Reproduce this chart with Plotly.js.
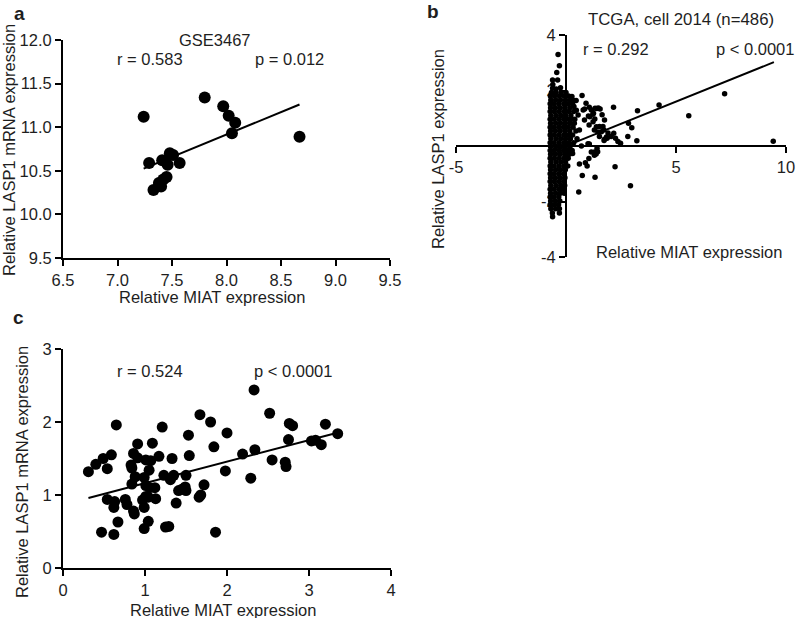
<!DOCTYPE html>
<html>
<head>
<meta charset="utf-8">
<script src="https://cdn.plot.ly/plotly-3.0.1.min.js"></script>
<style>html,body{margin:0;padding:0;background:#fff}#chart{width:797px;height:618px}</style>
</head>
<body>
<div id="chart"></div>
<script>
// Panel a: GSE3467
const aX = [7.24, 7.80, 7.97, 8.02, 8.08, 8.05, 8.67, 7.29, 7.41, 7.48, 7.51, 7.46, 7.57, 7.45, 7.42, 7.38, 7.40, 7.33];
const aY = [11.12, 11.34, 11.24, 11.13, 11.05, 10.93, 10.89, 10.59, 10.62, 10.70, 10.68, 10.57, 10.59, 10.43, 10.40, 10.36, 10.32, 10.28];
const aFitX = [7.24, 8.67];
const aFitY = [10.525, 11.26];
const aXTicks = [6.5, 7.0, 7.5, 8.0, 8.5, 9.0, 9.5];
const aYTicks = [9.5, 10.0, 10.5, 11.0, 11.5, 12.0];

// Panel b: TCGA, cell 2014 (n=486)
const bX = [
  // sparse points
  9.42, 7.21, 5.58, 4.23, 3.25, 2.99, 3.22, 2.84, 2.81, 2.16, 2.17, 2.48, 2.36, 2.25, 1.87, 1.75, 1.72, 1.64, 1.75, 1.47,
  1.32, 1.22, 1.52, 1.45, 2.23, 2.93, 1.32, 1.37, 1.41, 0.73, 0.27, 0.46, 0.91, 1.06, 1.25, 1.02, 1.31, 0.84, 1.68, 1.29,
  0.61, 0.38, 0.78, 0.55, 0.36, 0.26, 1.05, 1.52, 2.05, 1.06, 1.44, 1.29, 1.04, 0.61, 0.88, 0.96, 0.74, 0.58, 0.30, 1.15,
  1.91, 0.32, 0.47, 0.85, 1.15, 1.40, 1.55, 1.08, 1.23, 1.38, 1.61, 1.84, 1.73, 1.00, 0.70, 1.30,
  // top of column
  -0.36, -0.30, -0.42, -0.61, -0.38, -0.61, -0.45, -0.60, -0.25,
  // dense column
  -0.66, -0.45, -0.22, 0.00,
  -0.71, -0.52, -0.30, -0.08, 0.12,
  -0.69, -0.47, -0.25, -0.02, 0.20,
  -0.72, -0.55, -0.33, -0.10, 0.10, 0.30,
  -0.70, -0.48, -0.26, -0.04, 0.18,
  -0.72, -0.53, -0.31, -0.09, 0.12, 0.35,
  -0.69, -0.46, -0.24, -0.02, 0.22,
  -0.72, -0.54, -0.32, -0.10, 0.11, 0.40,
  -0.70, -0.47, -0.25, -0.03, 0.19,
  -0.72, -0.55, -0.33, -0.11, 0.10, 0.32,
  -0.70, -0.48, -0.26, -0.04, 0.17, 0.45,
  -0.72, -0.53, -0.31, -0.09, 0.13, 0.30,
  -0.69, -0.46, -0.24, -0.02, 0.20, 0.50,
  -0.72, -0.54, -0.32, -0.10, 0.12, 0.35,
  -0.70, -0.47, -0.25, -0.03, 0.18,
  -0.72, -0.55, -0.33, -0.11, 0.09, 0.28,
  -0.70, -0.48, -0.26, -0.04, 0.15,
  -0.72, -0.53, -0.31, -0.09, 0.10,
  -0.69, -0.46, -0.24, -0.02,
  -0.72, -0.54, -0.32, -0.10, 0.08,
  -0.70, -0.47, -0.25, -0.03,
  -0.72, -0.55, -0.33, -0.11,
  -0.70, -0.48, -0.26, -0.05,
  -0.72, -0.53, -0.31, -0.10,
  -0.69, -0.46, -0.24, -0.06,
  -0.72, -0.54, -0.32, -0.12,
  -0.70, -0.47, -0.26, -0.08,
  -0.72, -0.55, -0.33,
  -0.70, -0.48, -0.28,
  -0.72, -0.53, -0.34,
  -0.69, -0.47, -0.30,
  -0.62, -0.30,
  -0.61
];
const bY = [
  0.17, 1.88, 1.09, 1.48, 1.27, 0.66, 0.19, 0.82, 0.34, 1.40, 0.46, 0.10, 0.16, 0.28, 0.28, 0.24, 0.58, 1.13, 0.94, 1.37,
  1.36, 1.14, 0.70, 0.50, -0.75, -1.43, -1.13, -0.29, -0.08, 1.82, 1.78, 1.64, 1.54, 1.40, 1.18, 1.08, 0.97, 0.94, 0.70, 0.58,
  0.58, 0.82, 1.30, 1.12, 1.42, 0.97, 0.76, 0.34, 0.34, 0.07, -0.21, -0.33, -0.45, -0.65, -0.60, -0.72, -1.06, -1.66, -0.27, -0.22,
  0.47, 1.65, 1.29, 1.33, 1.30, 1.35, 1.33, 1.05, 0.87, 0.69, 0.51, 0.32, 0.20, 0.08, 0.00, -0.22,
  3.30, 2.89, 2.65, 2.38, 2.38, 2.08, 2.05, 2.22, 2.10,
  1.93, 1.93, 1.93, 1.93,
  1.80, 1.80, 1.80, 1.80, 1.80,
  1.66, 1.66, 1.66, 1.66, 1.66,
  1.52, 1.52, 1.52, 1.52, 1.52, 1.52,
  1.38, 1.38, 1.38, 1.38, 1.38,
  1.24, 1.24, 1.24, 1.24, 1.24, 1.24,
  1.10, 1.10, 1.10, 1.10, 1.10,
  0.96, 0.96, 0.96, 0.96, 0.96, 0.96,
  0.82, 0.82, 0.82, 0.82, 0.82,
  0.68, 0.68, 0.68, 0.68, 0.68, 0.68,
  0.54, 0.54, 0.54, 0.54, 0.54, 0.54,
  0.40, 0.40, 0.40, 0.40, 0.40, 0.40,
  0.26, 0.26, 0.26, 0.26, 0.26, 0.26,
  0.12, 0.12, 0.12, 0.12, 0.12, 0.12,
  -0.02, -0.02, -0.02, -0.02, -0.02,
  -0.16, -0.16, -0.16, -0.16, -0.16, -0.16,
  -0.30, -0.30, -0.30, -0.30, -0.30,
  -0.44, -0.44, -0.44, -0.44, -0.44,
  -0.58, -0.58, -0.58, -0.58,
  -0.72, -0.72, -0.72, -0.72, -0.72,
  -0.86, -0.86, -0.86, -0.86,
  -1.00, -1.00, -1.00, -1.00,
  -1.14, -1.14, -1.14, -1.14,
  -1.28, -1.28, -1.28, -1.28,
  -1.42, -1.42, -1.42, -1.42,
  -1.56, -1.56, -1.56, -1.56,
  -1.70, -1.70, -1.70, -1.70,
  -1.84, -1.84, -1.84,
  -1.98, -1.98, -1.98,
  -2.12, -2.12, -2.12,
  -2.26, -2.26, -2.26,
  -2.41, -2.41,
  -2.55
];
const bFitX = [-0.75, 9.45];
const bFitY = [-0.24, 3.02];
const bXTickVals = [-5, 5, 10];
const bXTickText = ['-5', '5', '10'];
const bYTickVals = [-4, -2, 2, 4];
const bYTickText = ['-4', '-2', '2', '4'];

// Panel c
const cX = [0.31, 0.40, 0.49, 0.54, 0.59, 0.65, 0.54, 0.63, 0.62, 0.67, 0.47, 0.62, 0.76, 0.78, 0.83, 0.84, 0.86, 0.91, 0.91, 0.88,
  0.84, 0.86, 0.87, 0.99, 1.01, 1.07, 1.09, 1.05, 1.01, 1.06, 1.12, 1.01, 1.04, 1.13, 0.97, 0.99, 1.04, 0.99, 1.17, 1.21,
  1.23, 1.25, 1.29, 1.31, 1.35, 1.33, 1.38, 1.41, 1.45, 1.49, 1.50, 1.50, 1.53, 1.54, 1.67, 1.80, 1.84, 1.72, 1.68, 1.66,
  1.86, 1.98, 2.00, 2.19, 2.29, 2.34, 2.33, 2.52, 2.55, 2.71, 2.72, 2.75, 2.76, 2.80, 3.03, 3.08, 3.15, 3.20, 3.35];
const cY = [1.32, 1.42, 1.50, 1.36, 1.55, 1.96, 0.94, 0.91, 0.83, 0.63, 0.49, 0.46, 0.94, 0.87, 1.41, 1.37, 1.57, 1.70, 1.51, 1.25,
  1.15, 0.78, 0.74, 1.24, 1.48, 1.47, 1.71, 1.34, 1.13, 1.10, 1.10, 0.98, 0.97, 0.95, 0.93, 0.83, 0.64, 0.54, 1.53, 1.93,
  1.27, 0.56, 0.57, 1.21, 1.27, 1.50, 0.89, 1.06, 1.08, 1.11, 1.06, 1.27, 1.82, 1.54, 2.10, 2.00, 1.66, 1.14, 1.00, 0.97,
  0.49, 1.33, 1.85, 1.56, 1.23, 1.62, 2.44, 2.12, 1.48, 1.45, 1.39, 1.76, 1.98, 1.95, 1.74, 1.75, 1.69, 1.97, 1.84];
const cFitX = [0.31, 3.37];
const cFitY = [0.96, 1.86];
const cXTicks = [0, 1, 2, 3, 4];
const cYTicks = [0, 1, 2, 3];

const W = 797, H = 618;
const fx = p => p / W;
const fy = p => 1 - p / H;
const TXT = '#1e1e1e';
const FONT = 'Liberation Sans, Arial, Helvetica, sans-serif';

const traces = [
  {x: aX, y: aY, xaxis: 'x', yaxis: 'y', mode: 'markers', type: 'scatter', marker: {size: 12, color: '#000'}, cliponaxis: false},
  {x: aFitX, y: aFitY, xaxis: 'x', yaxis: 'y', mode: 'lines', type: 'scatter', line: {color: '#000', width: 2}},
  {x: bX, y: bY, xaxis: 'x2', yaxis: 'y2', mode: 'markers', type: 'scatter', marker: {size: 5.5, color: '#000'}},
  {x: bFitX, y: bFitY, xaxis: 'x2', yaxis: 'y2', mode: 'lines', type: 'scatter', line: {color: '#000', width: 2}},
  {x: cX, y: cY, xaxis: 'x3', yaxis: 'y3', mode: 'markers', type: 'scatter', marker: {size: 11, color: '#000'}, cliponaxis: false},
  {x: cFitX, y: cFitY, xaxis: 'x3', yaxis: 'y3', mode: 'lines', type: 'scatter', line: {color: '#000', width: 2}}
];

const axBase = {
  showline: true, linewidth: 2, linecolor: '#000', ticks: 'outside', ticklen: 6, tickwidth: 2, tickcolor: '#000',
  showgrid: false, zeroline: false, fixedrange: true, tickfont: {family: FONT, size: 16.5, color: TXT}
};

function ann(text, x, y, size, angle) {
  return {text: text, x: fx(x), y: fy(y), xref: 'paper', yref: 'paper', xanchor: 'center', yanchor: 'middle',
    showarrow: false, textangle: angle || 0, font: {family: FONT, size: size || 16.5, color: TXT}};
}

const layout = {
  width: W, height: H, margin: {l: 0, r: 0, t: 0, b: 0}, showlegend: false,
  paper_bgcolor: '#fff', plot_bgcolor: 'rgba(0,0,0,0)', font: {family: FONT, size: 16.5, color: TXT},
  xaxis: Object.assign({}, axBase, {domain: [fx(63), fx(390)], range: [6.5, 9.5], anchor: 'y', tickvals: aXTicks, tickformat: '.1f'}),
  yaxis: Object.assign({}, axBase, {domain: [fy(258), fy(40)], range: [9.5, 12.0], anchor: 'x', tickvals: aYTicks, tickformat: '.1f'}),
  xaxis2: Object.assign({}, axBase, {domain: [fx(456), fx(786)], range: [-5, 10], anchor: 'free', position: (fy(257) + fy(35)) / 2,
    tickvals: bXTickVals, ticktext: bXTickText, layer: 'below traces'}),
  yaxis2: Object.assign({}, axBase, {domain: [fy(257), fy(35)], range: [-4, 4], anchor: 'free', position: fx(456) + (fx(786) - fx(456)) / 3,
    tickvals: bYTickVals, ticktext: bYTickText, layer: 'below traces'}),
  xaxis3: Object.assign({}, axBase, {domain: [fx(63), fx(391)], range: [0, 4], anchor: 'y3', tickvals: cXTicks}),
  yaxis3: Object.assign({}, axBase, {domain: [fy(568), fy(349)], range: [0, 3], anchor: 'x3', tickvals: cYTicks}),
  annotations: [
    ann('<b>a</b>', 19, 13, 19),
    ann('GSE3467', 215, 40),
    ann('r = 0.583', 150, 59),
    ann('p = 0.012', 289, 59),
    ann('Relative LASP1 mRNA expression', 9, 150, 16.5, -90),
    ann('Relative MIAT expression', 212, 297),
    ann('<b>b</b>', 433, 12, 19),
    ann('TCGA, cell 2014 (n=486)', 681, 20, 16.8),
    ann('r = 0.292', 616, 49),
    ann('p &lt; 0.0001', 755, 49),
    ann('Relative LASP1 expression', 438, 149, 16.5, -90),
    ann('Relative MIAT expression', 689, 252),
    ann('<b>c</b>', 18, 317, 19),
    ann('r = 0.524', 150, 371),
    ann('p &lt; 0.0001', 293, 371),
    ann('Relative LASP1 mRNA expression', 22, 472, 16.5, -90),
    ann('Relative MIAT expression', 223, 610)
  ]
};

Plotly.newPlot('chart', traces, layout, {staticPlot: true, displayModeBar: false});
</script>
</body>
</html>
